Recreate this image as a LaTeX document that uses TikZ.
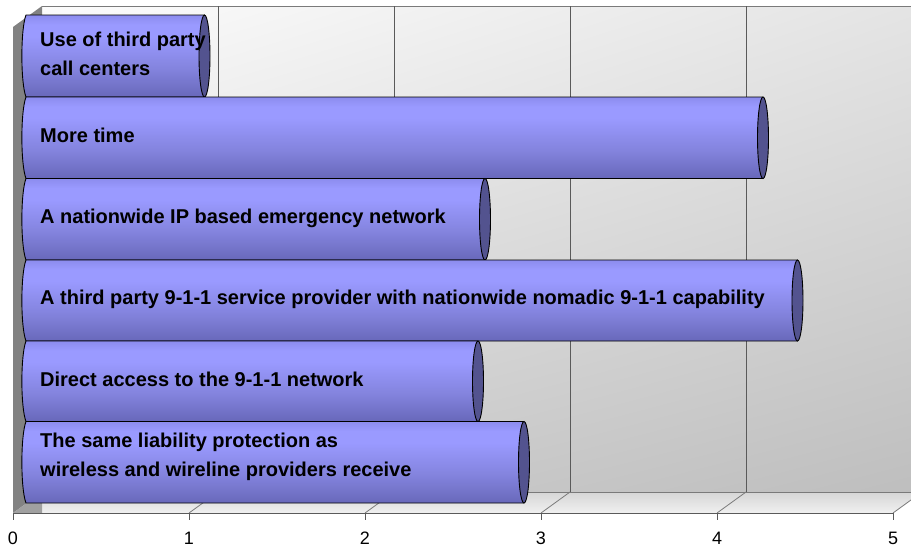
\documentclass[tikz,border=0pt]{standalone}
\usepackage{fontspec}
\setmainfont{Liberation Sans}
\usetikzlibrary{shadings}
\definecolor{barlight}{HTML}{9A9AFF}
\definecolor{bartop}{HTML}{8C8CEE}
\definecolor{barmid}{HTML}{8383DD}
\definecolor{bardark}{HTML}{6868BA}
\definecolor{capfill}{HTML}{53538F}
\definecolor{wallside}{HTML}{828282}
\definecolor{wallcorner}{HTML}{A0A0A0}
\definecolor{gridline}{HTML}{5A5A5A}
\definecolor{edgeline}{HTML}{7A7A7A}
\definecolor{backUL}{HTML}{FCFCFC}
\definecolor{backUR}{HTML}{E4E4E4}
\definecolor{backLL}{HTML}{D0D0D0}
\definecolor{backLR}{HTML}{BEBEBE}
\definecolor{floorback}{HTML}{D6D6D6}
\definecolor{floorfront}{HTML}{F0F0F0}
\pgfdeclareverticalshading{barshade}{100bp}{color(0bp)=(bardark); color(25bp)=(bardark); color(42bp)=(barmid); color(62bp)=(barlight); color(69bp)=(barlight); color(75bp)=(bartop); color(100bp)=(bartop)}
\tikzset{
  barbody/.style={shading=barshade, draw=black, line width=0.9pt, line join=round},
  barcap/.style={fill=capfill, draw=black, line width=0.9pt},
  barlabel/.style={anchor=base west, inner sep=0pt, font=\fontsize{20}{29}\selectfont\bfseries},
  ticklabel/.style={inner sep=0pt, font=\fontsize{18}{20}\selectfont},
  grid/.style={draw=gridline, line width=0.8pt},
}
% one cylinder bar: top y, bottom y, x of the end face
\newcommand\drawbar[3]{%
  \path[barbody] (#3,#1) -- (26,#1) .. controls (20.5,#1+14) and (20.5,#2-14) .. (26,#2) -- (#3,#2) -- cycle;
  \path[barcap] (#3,{(#1+#2)/2}) ellipse [x radius=5.5, y radius={(#2-#1)/2}];
}
\newcommand\twolines[2]{\vtop{\baselineskip=29pt\hbox{#1}\hbox{#2}}}
\begin{document}
\begin{tikzpicture}[x=1pt,y=-1pt]
\useasboundingbox (0,0) rectangle (911,550);
\clip (0,0) rectangle (911,550);
\fill[white] (0,0) rectangle (911,550);

% back wall
\shade[upper left=backUL, upper right=backUR, lower left=backLL, lower right=backLR]
  (42,6) rectangle (922,492);
\draw[edgeline, line width=0.9pt] (42,6) -- (922,6);
\foreach \k in {1,...,4} \draw[grid] (42+176*\k,6) -- (42+176*\k,492);

% floor
\shade[top color=floorback, bottom color=floorfront]
  (13,513) -- (42,492) -- (922,492) -- (893,513) -- cycle;
\draw[edgeline, line width=0.8pt] (42,492) -- (922,492);
\foreach \k in {1,...,5} \draw[edgeline, line width=0.8pt] (13+176*\k,513) -- (42+176*\k,492);

% left wall
\fill[wallside] (13,27) -- (42,6) -- (42,492) -- (13,513) -- cycle;
\fill[wallcorner] (13,513) -- (42,492) -- (42,513) -- cycle;

% value axis
\draw[gridline, line width=0.9pt] (13,513) -- (893,513);
\foreach \k in {0,...,5} {
  \draw[gridline, line width=0.9pt] (13+176*\k,513) -- (13+176*\k,520);
  \node[ticklabel] (t\k) at (13+176*\k,538) {\k};
}

% bars, top to bottom
\drawbar{15}{97}{204.5}
\drawbar{97}{178.5}{763}
\drawbar{178.5}{260}{485}
\drawbar{260}{341}{797.5}
\drawbar{341}{421.5}{478}
\drawbar{421.5}{503}{524}

% bar labels
\node[barlabel] (b1) at (40,46) {\twolines{Use of third party}{call centers}};
\node[barlabel] (b2) at (40,142) {More time};
\node[barlabel] (b3) at (40,223) {A nationwide IP based emergency network};
\node[barlabel] (b4) at (40,304) {A third party 9-1-1 service provider with nationwide nomadic 9-1-1 capability};
\node[barlabel] (b5) at (40,386) {Direct access to the 9-1-1 network};
\node[barlabel] (b6) at (40,447) {\twolines{The same liability protection as}{wireless and wireline providers receive}};
\end{tikzpicture}
\end{document}
